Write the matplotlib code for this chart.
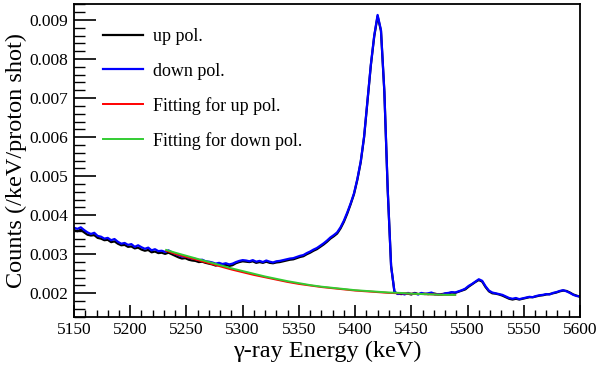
import numpy as np
import matplotlib.pyplot as plt
from matplotlib.ticker import MultipleLocator, FormatStrFormatter

plt.rcParams['font.family'] = ['Liberation Serif', 'DejaVu Serif']
plt.rcParams['mathtext.fontset'] = 'stix'

# gamma-ray energy of each bin (keV), 3 keV spacing
energy = np.arange(5150, 5601, 3)

# counts per keV per proton shot, in units of 1e-4
up_pol = [
    36.2, 35.9, 36.3, 35.6, 35.0, 34.8, 34.9, 34.2, 34.0, 33.6,
    33.7, 33.1, 33.3, 32.7, 32.3, 32.4, 31.9, 32.0, 31.5, 31.7,
    31.2, 30.9, 31.1, 30.5, 30.7, 30.3, 30.4, 30.1, 30.4, 30.0,
    29.6, 29.2, 28.9, 29.0, 28.6, 28.4, 28.3, 28.0, 28.1, 27.8,
    27.6, 27.4, 27.1, 27.3, 27.1, 27.3, 27.0, 27.2, 27.7, 28.0,
    28.2, 28.1, 28.0, 28.2, 27.8, 28.0, 27.8, 28.1, 27.8, 27.7,
    27.9, 28.0, 28.2, 28.4, 28.6, 28.7, 29.0, 29.3, 29.5, 30.0,
    30.4, 30.9, 31.3, 31.9, 32.5, 33.2, 34.0, 34.6, 35.3, 36.6,
    38.3, 40.4, 42.8, 45.4, 49.1, 53.6, 60.0, 69.3, 78.4, 85.8,
    91.0, 87.2, 71.6, 46.4, 27.0, 20.3, 19.9, 19.8, 19.9, 19.9,
    19.7, 20.1, 19.8, 19.9, 19.9, 19.8, 20.0, 19.9, 19.7, 19.8,
    19.9, 20.0, 20.2, 20.1, 20.4, 20.7, 21.0, 21.7, 22.3, 22.9,
    23.4, 23.0, 21.6, 20.5, 20.0, 19.9, 19.7, 19.4, 19.0, 18.6,
    18.4, 18.6, 18.4, 18.6, 18.8, 19.0, 19.0, 19.2, 19.4, 19.5,
    19.7, 19.8, 20.0, 20.2, 20.5, 20.7, 20.6, 20.2, 19.7, 19.4,
    19.1,
]
down_pol = [
    36.8, 36.5, 36.9, 36.2, 35.6, 35.2, 35.5, 34.7, 34.5, 34.0,
    34.2, 33.6, 33.9, 33.2, 32.7, 32.9, 32.4, 32.6, 31.9, 32.3,
    31.8, 31.4, 31.7, 31.0, 31.3, 30.8, 30.9, 30.6, 31.0, 30.5,
    30.1, 29.8, 29.4, 29.5, 29.1, 28.9, 28.8, 28.5, 28.6, 28.2,
    28.1, 27.9, 27.6, 27.8, 27.5, 27.7, 27.4, 27.6, 28.0, 28.3,
    28.5, 28.4, 28.2, 28.5, 28.1, 28.3, 28.0, 28.4, 28.1, 27.9,
    28.2, 28.3, 28.5, 28.7, 28.9, 29.0, 29.3, 29.6, 29.8, 30.3,
    30.7, 31.2, 31.6, 32.2, 32.8, 33.5, 34.3, 34.9, 35.6, 36.9,
    38.6, 40.7, 43.0, 45.6, 49.3, 53.8, 60.2, 69.5, 78.6, 86.0,
    91.3, 87.4, 71.8, 46.5, 27.0, 20.4, 19.8, 20.0, 19.7, 20.1,
    19.8, 20.0, 19.7, 20.1, 19.8, 20.0, 20.2, 19.7, 19.8, 19.6,
    20.0, 20.1, 20.3, 20.2, 20.5, 20.8, 21.2, 21.9, 22.4, 23.0,
    23.6, 23.2, 21.8, 20.7, 20.2, 20.0, 19.8, 19.6, 19.2, 18.8,
    18.6, 18.8, 18.5, 18.7, 18.9, 19.1, 19.0, 19.3, 19.5, 19.6,
    19.8, 19.7, 20.1, 20.3, 20.6, 20.8, 20.5, 20.1, 19.6, 19.3,
    19.2,
]

# background fits under the peak (same 1e-4 units)
fit_energy = [5232, 5240, 5250, 5260, 5270, 5280, 5290, 5300, 5310, 5320,
              5330, 5340, 5350, 5360, 5370, 5380, 5390, 5400, 5410, 5420,
              5430, 5440, 5450, 5460, 5470, 5480, 5489]
fit_up = [30.9, 30.1, 29.3, 28.5, 27.7, 26.9, 26.1, 25.4, 24.7, 24.1,
          23.5, 22.9, 22.4, 22.0, 21.6, 21.3, 21.0, 20.7, 20.5, 20.3,
          20.1, 20.0, 19.9, 19.8, 19.7, 19.6, 19.6]
fit_down = [31.1, 30.4, 29.6, 28.8, 28.0, 27.2, 26.4, 25.7, 25.0, 24.3,
            23.7, 23.1, 22.6, 22.1, 21.7, 21.4, 21.1, 20.8, 20.6, 20.4,
            20.2, 20.1, 19.9, 19.8, 19.7, 19.6, 19.6]

scale = 1e-4

fig = plt.figure(figsize=(5.97, 3.67), dpi=100)
ax = fig.add_axes([0.124, 0.137, 0.8475, 0.851])

ax.plot(energy, np.array(up_pol) * scale, color='black', lw=1.6, label='up pol.')
ax.plot(energy, np.array(down_pol) * scale, color='#0000ff', lw=1.6, label='down pol.')
ax.plot(fit_energy, np.array(fit_up) * scale, color='#ff0000', lw=1.4,
        label='Fitting for up pol.')
ax.plot(fit_energy, np.array(fit_down) * scale, color='#33cc33', lw=1.4,
        label='Fitting for down pol.')

ax.set_xlim(5150, 5600)
ax.set_ylim(0.0014, 0.0094)

ax.xaxis.set_major_locator(MultipleLocator(50))
ax.xaxis.set_minor_locator(MultipleLocator(10))
ax.yaxis.set_major_locator(MultipleLocator(0.001))
ax.yaxis.set_minor_locator(MultipleLocator(0.0002))
ax.yaxis.set_major_formatter(FormatStrFormatter('%.3f'))

ax.tick_params(which='both', direction='in', top=False, right=False,
               labelsize=12.5, pad=4)
ax.tick_params(axis='y', which='major', length=16, width=1.2)
ax.tick_params(axis='y', which='minor', length=8, width=1.0)
ax.tick_params(axis='x', which='major', length=9, width=1.2)
ax.tick_params(axis='x', which='minor', length=5, width=1.0)
for s in ax.spines.values():
    s.set_linewidth(1.3)

ax.set_xlabel('γ-ray Energy (keV)', fontsize=17.5, labelpad=2)
ax.set_ylabel('Counts (/keV/proton shot)', fontsize=17.5, labelpad=2)

ax.legend(loc='upper left', frameon=False, fontsize=13,
          handlelength=2.2, handletextpad=0.55, labelspacing=0.95,
          bbox_to_anchor=(0.026, 0.975))

fig.savefig('out.png', dpi=100)
